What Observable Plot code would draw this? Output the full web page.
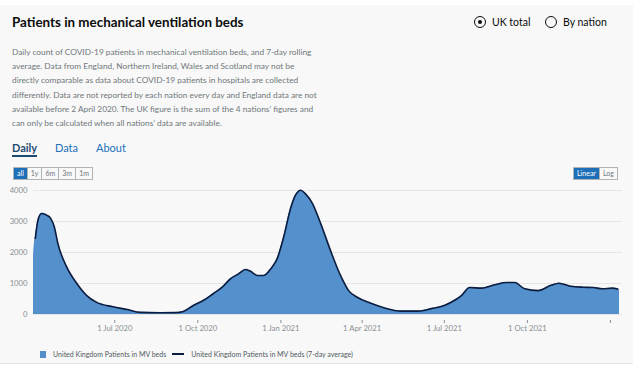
<!DOCTYPE html>
<html>
<head>
<meta charset="utf-8">
<script src="https://cdn.jsdelivr.net/npm/d3@7"></script>
<script src="https://cdn.jsdelivr.net/npm/@observablehq/plot@0.6"></script>
<style>
  html, body { margin: 0; padding: 0; background: #ffffff; }
  body { width: 640px; height: 365px; overflow: hidden; font-family: Lato, "Noto Sans", sans-serif; }
  #panel { position: absolute; left: 0; top: 5px; width: 633px; height: 358px; background: #f8f8f8; border-bottom: 1px solid #e4e4e4; }
  .abs { position: absolute; white-space: nowrap; }
  #title { left: 12px; top: 14px; font-size: 13.4px; font-weight: 700; color: #0b0c0c; }
  .radio { top: 16px; display: flex; align-items: center; font-size: 10.5px; color: #0b0c0c; }
  .radio .c { width: 12px; height: 12px; border: 1.5px solid #0b0c0c; border-radius: 50%; box-sizing: border-box; margin-right: 6px; position: relative; }
  .radio .c.on::after { content: ""; position: absolute; left: 2.5px; top: 2.5px; width: 4px; height: 4px; border-radius: 50%; background: #0b0c0c; }
  #desc { left: 12px; top: 45px; font-size: 8.3px; line-height: 14.2px; color: #6f777b; }
  .tab { top: 141px; font-size: 11px; color: #1d70b8; }
  #daily { font-weight: 700; color: #1d4a72; border-bottom: 2px solid #1d4a72; padding-bottom: 1px; }
  .btns { top: 167px; display: flex; border: 1px solid #b1b4b6; font-size: 7px; height: 11px; }
  .btns span { display: inline-block; padding: 0 3px; line-height: 11px; color: #6f777b; border-left: 1px solid #b1b4b6; }
  .btns span:first-child { border-left: none; }
  .btns span.sel { background: #1d70b8; color: #ffffff; }
  #chart { position: absolute; left: 0; top: 183px; }
  #legend { left: 40px; top: 350px; font-size: 7px; color: #505a5f; display: flex; align-items: center; }
  #legend .sq { width: 6px; height: 7px; background: #5490cc; margin-right: 7px; }
  #legend .ln { width: 12px; height: 2px; background: #0b1c3f; margin: 0 7px 0 6px; }
</style>
</head>
<body>
<div id="panel"></div>
<div class="abs" id="title">Patients in mechanical ventilation beds</div>
<div class="abs radio" style="left:474px"><span class="c on"></span>UK total</div>
<div class="abs radio" style="left:545px"><span class="c"></span>By nation</div>
<div class="abs" id="desc">Daily count of COVID-19 patients in mechanical ventilation beds, and 7-day rolling<br>average. Data from England, Northern Ireland, Wales and Scotland may not be<br>directly comparable as data about COVID-19 patients in hospitals are collected<br>differently. Data are not reported by each nation every day and England data are not<br>available before 2 April 2020. The UK figure is the sum of the 4 nations’ figures and<br>can only be calculated when all nations’ data are available.</div>
<div class="abs tab" id="daily" style="left:12px">Daily</div>
<div class="abs tab" style="left:55px">Data</div>
<div class="abs tab" style="left:96px">About</div>
<div class="abs btns" style="left:13px"><span class="sel">all</span><span>1y</span><span>6m</span><span>3m</span><span>1m</span></div>
<div class="abs btns" style="left:573px"><span class="sel">Linear</span><span>Log</span></div>
<div id="chart"></div>
<div class="abs" id="legend"><span class="sq"></span>United Kingdom Patients in MV beds<span class="ln"></span>United Kingdom Patients in MV beds (7-day average)</div>
<script>
// 7-day average series
const avgDates = ["2020-04-04","2020-04-07","2020-04-11","2020-04-17","2020-04-21","2020-04-25","2020-04-29","2020-05-09","2020-05-20","2020-05-31","2020-06-11","2020-06-29","2020-07-15","2020-07-29","2020-08-20","2020-09-06","2020-09-15","2020-09-26","2020-10-07","2020-10-18","2020-10-28","2020-11-06","2020-11-15","2020-11-23","2020-11-28","2020-12-06","2020-12-13","2020-12-21","2020-12-28","2021-01-04","2021-01-12","2021-01-17","2021-01-23","2021-01-28","2021-02-05","2021-02-14","2021-02-25","2021-03-08","2021-03-17","2021-03-27","2021-04-10","2021-04-25","2021-05-14","2021-06-02","2021-06-17","2021-07-01","2021-07-12","2021-07-20","2021-07-29","2021-08-11","2021-08-26","2021-09-08","2021-09-17","2021-09-28","2021-10-13","2021-10-27","2021-11-05","2021-11-18","2021-12-02","2021-12-13","2021-12-23","2022-01-03","2022-01-09"];
const avgValues = [2450,3050,3260,3200,3100,2830,2290,1520,1000,610,390,250,160,70,55,60,100,290,450,670,880,1150,1310,1450,1400,1260,1260,1480,1810,2490,3450,3840,4010,3900,3580,2940,2060,1260,770,550,370,220,110,110,190,290,450,610,870,850,960,1030,1030,830,770,940,1010,910,880,870,830,850,820];
// daily series
const dailyDates = ["2020-04-02","2020-04-03","2020-04-04","2020-04-07","2020-04-11","2020-04-17","2020-04-21","2020-04-25","2020-04-29","2020-05-09","2020-05-20","2020-05-31","2020-06-11","2020-06-29","2020-07-15","2020-07-29","2020-08-20","2020-09-06","2020-09-15","2020-09-26","2020-10-07","2020-10-18","2020-10-28","2020-11-06","2020-11-15","2020-11-23","2020-11-28","2020-12-06","2020-12-13","2020-12-21","2020-12-28","2021-01-04","2021-01-12","2021-01-17","2021-01-23","2021-01-28","2021-02-05","2021-02-14","2021-02-25","2021-03-08","2021-03-17","2021-03-27","2021-04-10","2021-04-25","2021-05-14","2021-06-02","2021-06-17","2021-07-01","2021-07-12","2021-07-20","2021-07-29","2021-08-11","2021-08-26","2021-09-08","2021-09-17","2021-09-28","2021-10-13","2021-10-27","2021-11-05","2021-11-18","2021-12-02","2021-12-13","2021-12-23","2022-01-03","2022-01-09","2022-01-11"];
const dailyValues = [1900,2300,2500,3050,3270,3210,3110,2840,2300,1530,1000,610,390,250,160,70,55,60,100,290,450,670,880,1150,1310,1450,1400,1260,1260,1480,1810,2490,3450,3840,4010,3900,3580,2940,2060,1260,770,550,370,220,110,110,190,290,450,610,870,850,960,1030,1030,830,770,940,1010,910,880,870,830,850,820,790];
// axis ticks
const xTickDates = ["2020-07-01","2020-10-01","2021-01-01","2021-04-01","2021-07-01","2021-10-01","2022-01-01"];
const xTickLabels = ["1 Jul 2020","1 Oct 2020","1 Jan 2021","1 Apr 2021","1 Jul 2021","1 Oct 2021",""];
const yTicks = [0, 1000, 2000, 3000, 4000];

const parse = d3.utcParse("%Y-%m-%d");
const avg = avgDates.map((d, i) => ({date: parse(d), value: avgValues[i]}));
const daily = dailyDates.map((d, i) => ({date: parse(d), value: dailyValues[i]}));
const ticks = xTickDates.map(parse);
const labelOf = new Map(ticks.map((t, i) => [+t, xTickLabels[i]]));

const chart = Plot.plot({
  width: 640,
  height: 157,
  marginLeft: 33,
  marginRight: 21,
  marginTop: 7,
  marginBottom: 20,
  style: {background: "transparent", fontFamily: "Lato, 'Noto Sans', sans-serif", fontSize: "7.7px", color: "#8a8f93"},
  x: {type: "utc", domain: [parse("2020-04-02"), parse("2022-01-11")]},
  y: {domain: [0, 4000], insetBottom: 6},
  marks: [
    Plot.ruleY(yTicks, {stroke: "#e6e6e6", strokeWidth: 1, x1: parse("2020-04-02"), x2: parse("2022-01-14")}),
    Plot.areaY(daily, {x: "date", y: "value", fill: "#5490cc", curve: "monotone-x"}),
    Plot.lineY(avg, {x: "date", y: "value", stroke: "#0b1c3f", strokeWidth: 1.6, curve: "monotone-x"}),
    Plot.axisY({ticks: yTicks, tickSize: 0, tickPadding: 6, label: null, tickFormat: d => String(d), fill: "#8a8f93"}),
    Plot.axisX({ticks: ticks, tickSize: 3, tickPadding: 2, label: null, stroke: "#8a8f93", fill: "#8a8f93", tickFormat: d => labelOf.get(+d)})
  ]
});
document.getElementById("chart").appendChild(chart);
</script>
</body>
</html>
